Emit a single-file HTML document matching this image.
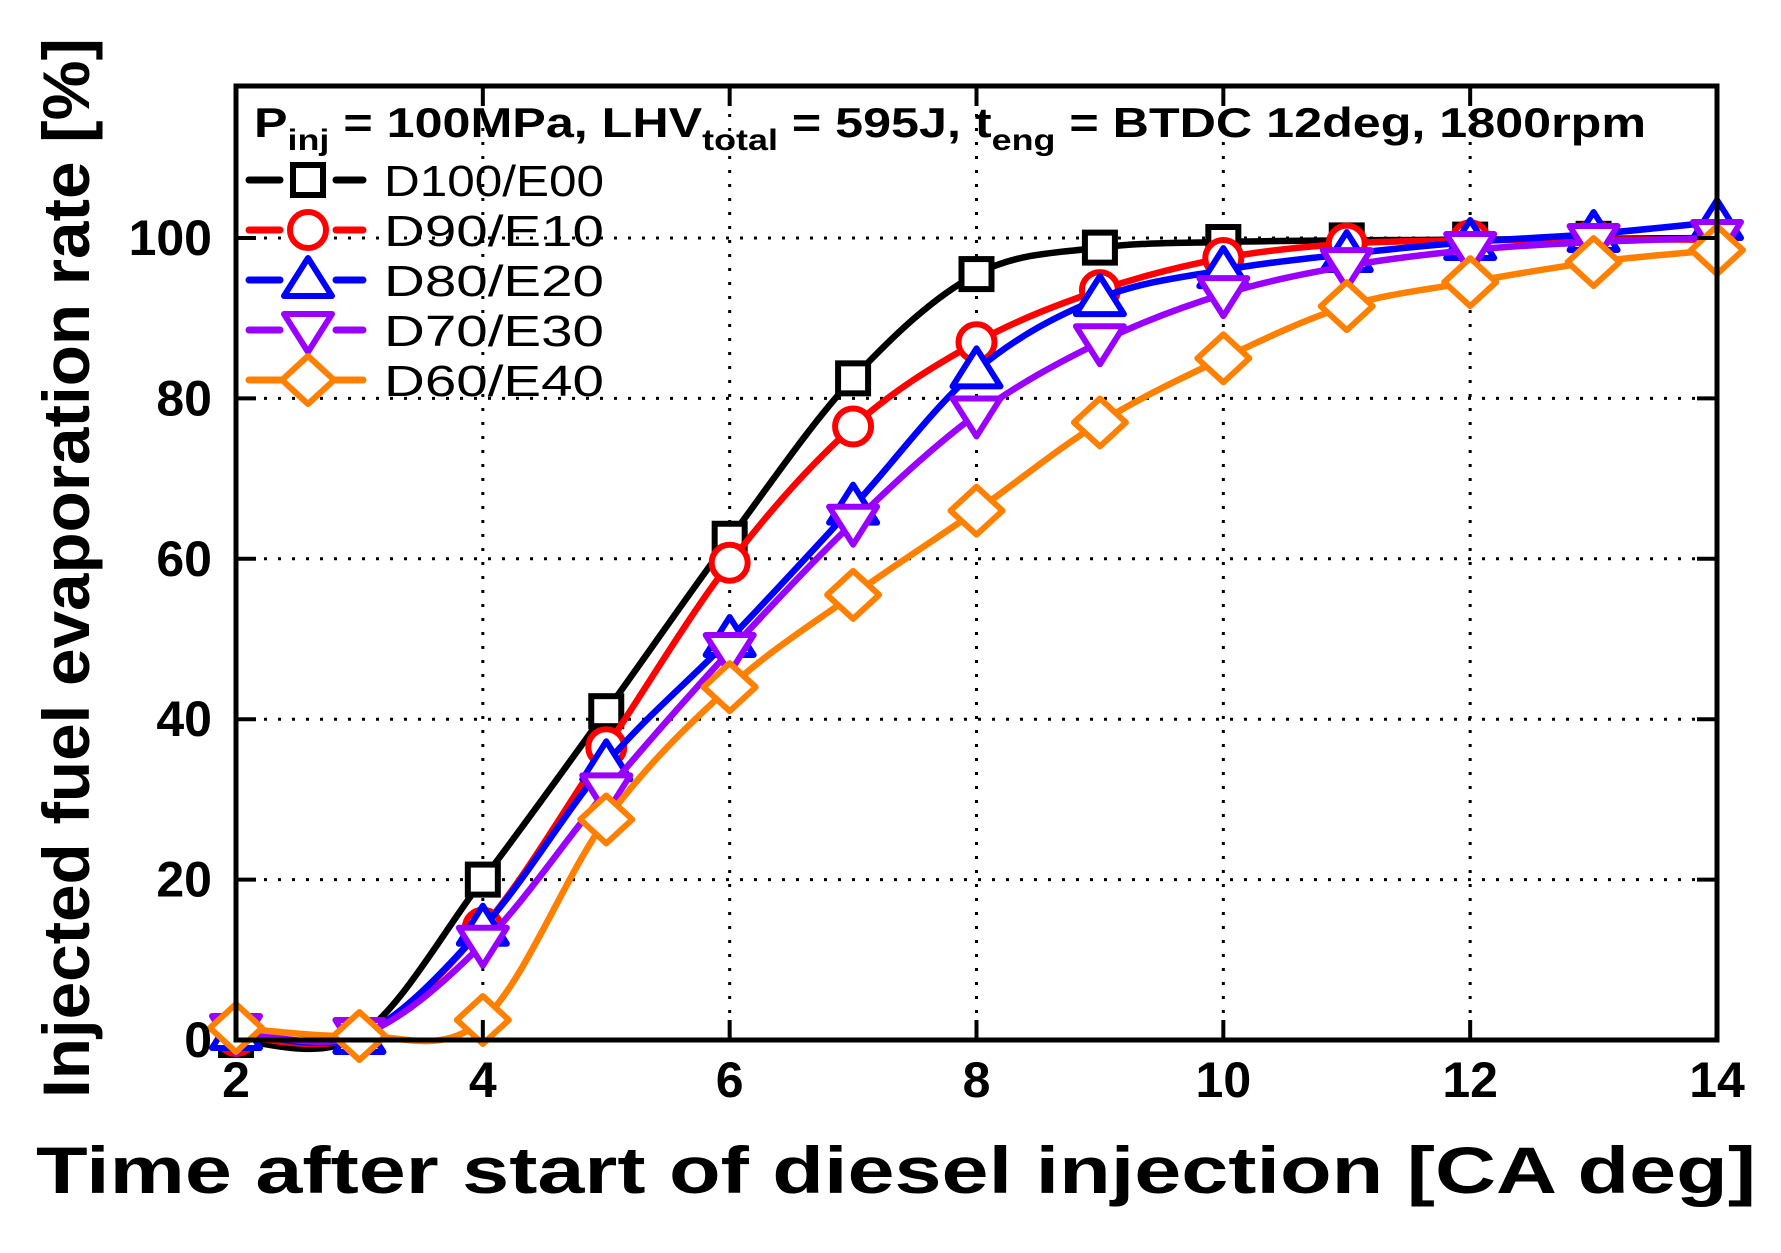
<!DOCTYPE html>
<html><head><meta charset="utf-8"><style>
html,body{margin:0;padding:0;background:#fff}
svg{display:block}
text{font-family:"Liberation Sans",Arial,sans-serif}
</style></head><body>
<svg id="chart" width="1781" height="1253" viewBox="0 0 1781 1253">
<g id="grid"></g>
<g id="series"></g>
<rect x="236" y="86" width="1481" height="954" fill="none" stroke="#000" stroke-width="5"/>
<g id="ticks"></g>
<text x="254" y="137" font-size="42" font-weight="bold" textLength="1392" lengthAdjust="spacingAndGlyphs">P<tspan font-size="30" dy="13">inj</tspan><tspan dy="-13"> = 100MPa, LHV</tspan><tspan font-size="30" dy="13">total</tspan><tspan dy="-13"> = 595J, t</tspan><tspan font-size="30" dy="13">eng</tspan><tspan dy="-13"> = BTDC 12deg, 1800rpm</tspan></text>
<g id="legend"></g>
<text x="36" y="1193" font-size="66" font-weight="bold" textLength="1720" lengthAdjust="spacingAndGlyphs">Time after start of diesel injection [CA deg]</text>
<text transform="translate(89,1098) rotate(-90)" font-size="66" font-weight="bold" textLength="1060" lengthAdjust="spacingAndGlyphs">Injected fuel evaporation rate [%]</text>
</svg>
<script>
const xs = [2,3,4,5,6,7,8,9,10,11,12,13,14];
const d100 = [0,0.5,20,41,62.5,82.5,95.5,98.8,99.5,99.7,99.8,99.9,100];
const d90 = [0.5,0.5,14,36.5,59.5,76.5,87,93.5,97.5,99.3,99.7,99.8,99.8];
const d80 = [1,0.5,14,34.5,50,66.5,83.5,92.5,96,98,99.5,100.5,102];
const d70 = [1,0.5,12,31,48.5,64.5,78,87,93,96.5,98.5,99.5,100];
const d60 = [1.5,0.5,2.5,27.5,44,55.5,66,77,85,91.5,94.5,97,98.5];
const seriesNames = ["D100/E00","D90/E10","D80/E20","D70/E30","D60/E40"];
const xTicks = [2,4,6,8,10,12,14];
const yTicks = [0,20,40,60,80,100];

const NS="http://www.w3.org/2000/svg";
const X0=236,X1=1717,Y0=1040,Y100=238;
const sx=v=>X0+(v-2)/12*(X1-X0);
const sy=v=>Y0-(v/100)*(Y0-Y100);
function mk(tag,attrs,parent){const e=document.createElementNS(NS,tag);for(const k in attrs)e.setAttribute(k,attrs[k]);parent.appendChild(e);return e;}
const grid=document.getElementById('grid'),ticks=document.getElementById('ticks'),ser=document.getElementById('series'),leg=document.getElementById('legend');
xTicks.forEach(t=>{const x=sx(t);
 if(t>2&&t<14){const l=mk('line',{x1:x,x2:x,y1:86,y2:1040,stroke:'#000','stroke-width':3,'stroke-dasharray':'3 11'},grid);
 
 const tk=mk('line',{x1:x,x2:x,y1:1040,y2:1020,stroke:'#000','stroke-width':4},ticks);
 
 const tk2=mk('line',{x1:x,x2:x,y1:86,y2:106,stroke:'#000','stroke-width':4},ticks);
 }
 const tx=mk('text',{x:x,y:1097,'text-anchor':'middle','font-size':50,'font-weight':'bold'},ticks);tx.textContent=t;
 });
yTicks.forEach(t=>{const y=sy(t);
 if(t>0){const l=mk('line',{x1:236,x2:1717,y1:y,y2:y,stroke:'#000','stroke-width':3,'stroke-dasharray':'3 11'},grid);
 
 const tk=mk('line',{x1:236,x2:256,y1:y,y2:y,stroke:'#000','stroke-width':4},ticks);
 
 const tk2=mk('line',{x1:1697,x2:1717,y1:y,y2:y,stroke:'#000','stroke-width':4},ticks);
 }
 const tx=mk('text',{x:212,y:y+17,'text-anchor':'end','font-size':50,'font-weight':'bold'},ticks);tx.textContent=t;
 });
const all=[d100,d90,d80,d70,d60];
const colors=['#000','#ff0000','#0000ff','#9900ff','#ff8000'];
const shapes=['square','circle','tri','itri','diamond'];
function marker(shape,x,y,c,p){let e;
 if(shape==='square')e=mk('rect',{x:x-15,y:y-15,width:30,height:30,fill:'#fff',stroke:c,'stroke-width':6},p);
 else if(shape==='circle')e=mk('circle',{cx:x,cy:y,r:18,fill:'#fff',stroke:c,'stroke-width':6},p);
 else if(shape==='tri')e=mk('polygon',{points:`${x},${y-22} ${x+24},${y+16} ${x-24},${y+16}`,fill:'#fff',stroke:c,'stroke-width':6,'stroke-linejoin':'round'},p);
 else if(shape==='itri')e=mk('polygon',{points:`${x},${y+22} ${x+24},${y-16} ${x-24},${y-16}`,fill:'#fff',stroke:c,'stroke-width':6,'stroke-linejoin':'round'},p);
 else e=mk('polygon',{points:`${x},${y-24} ${x+26},${y} ${x},${y+24} ${x-26},${y}`,fill:'#fff',stroke:c,'stroke-width':6,'stroke-linejoin':'round'},p);
 return e;}
all.forEach((vals,i)=>{
 const pts=xs.map((v,j)=>[sx(v),sy(vals[j])]);
 let d=`M${pts[0][0]},${pts[0][1]}`;
 for(let j=0;j<pts.length-1;j++){const p0=pts[j-1]||pts[j],p1=pts[j],p2=pts[j+1],p3=pts[j+2]||p2;
  d+=` C${p1[0]+(p2[0]-p0[0])/6},${p1[1]+(p2[1]-p0[1])/6} ${p2[0]-(p3[0]-p1[0])/6},${p2[1]-(p3[1]-p1[1])/6} ${p2[0]},${p2[1]}`;}
 const g=mk('g',{},ser);
 const path=mk('path',{d:d,fill:'none',stroke:colors[i],'stroke-width':6.5},g);
 
 pts.forEach(p=>{const m=marker(shapes[i],p[0],p[1],colors[i],g);
  });
 const ly=180+i*50;
 const lg=mk('g',{},leg);
 mk('line',{x1:249,x2:280,y1:ly,y2:ly,stroke:colors[i],'stroke-width':7,'stroke-linecap':'round'},lg);
 mk('line',{x1:336,x2:363,y1:ly,y2:ly,stroke:colors[i],'stroke-width':7,'stroke-linecap':'round'},lg);
 marker(shapes[i],308,ly,colors[i],lg);
 const t=mk('text',{x:384,y:ly+16,'font-size':44,textLength:220,lengthAdjust:'spacingAndGlyphs'},lg);t.textContent=seriesNames[i];
});
</script>
</body></html>
